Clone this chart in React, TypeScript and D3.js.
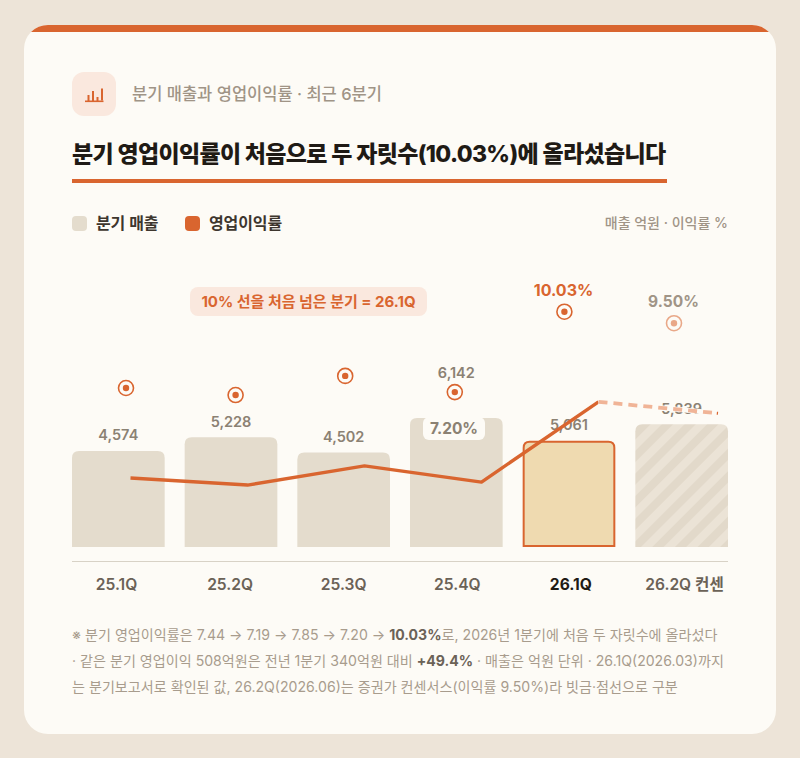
import React from "react";
import * as d3 from "d3";

const quarters = ["25.1Q", "25.2Q", "25.3Q", "25.4Q", "26.1Q", "26.2Q 컨센"];
const revenue = [4574, 5228, 4502, 6142, 5061, 5839];
const revenueLabels = ["4,574", "5,228", "4,502", "6,142", "5,061", "5,839"];
const marginPlot = [7.44, 7.2, 7.85, 7.3, 10.03, 9.64];

const ink = "#1f1a15";
const orange = "#d9652f";
const peach = "#f0b497";
const barFill = "#e4dccd";
const card = "#fdfbf6";
const sans = "Inter, 'Noto Sans CJK KR', sans-serif";

const x = d3.scaleBand<number>().domain(d3.range(6)).range([72, 728]).paddingInner(0.1775).paddingOuter(0);
const yBar = d3.scaleLinear().domain([0, 6142]).range([547, 418]);
const yMark = d3.scaleLinear().domain([7.44, 10.03]).range([388, 311.7]);
const yLine = d3.scaleLinear().domain([7.44, 10.03]).range([478, 401.8]);
const xMark = d3.scaleLinear().domain([0, 5]).range([126, 674]);
const xLine = d3.scaleLinear().domain([0, 4, 5]).range([130.5, 598.5, 718]);
const xLabel = d3.scaleLinear().domain([0, 5]).range([116.5, 684.5]);

const solidPath = d3.line<number>().x((_, i) => xLine(i)).y((d) => yLine(d))(marginPlot.slice(0, 5)) as string;
const dashPath = d3.line<number>().x((_, i) => xLine(i + 4)).y((d) => yLine(d))(marginPlot.slice(4)) as string;

const topRoundedBar = (x0: number, y0: number, w: number, y1: number, r: number) =>
  `M${x0},${y1}V${y0 + r}Q${x0},${y0} ${x0 + r},${y0}H${x0 + w - r}Q${x0 + w},${y0} ${x0 + w},${y0 + r}V${y1}Z`;

export default function App() {
  const bw = x.bandwidth();
  return (
    <svg width={800} height={758} viewBox="0 0 800 758" style={{ position: "fixed", left: 0, top: 0, fontFamily: sans }}>
      <defs>
        <pattern id="hatch" width="16" height="16" patternUnits="userSpaceOnUse" patternTransform="rotate(45)">
          <rect width="16" height="16" fill="#ebe3d6" />
          <rect width="8" height="16" fill="#e2d9ca" />
        </pattern>
        <clipPath id="card"><rect x="24" y="25" width="752" height="709" rx="24" /></clipPath>
      </defs>
      <rect width="800" height="758" fill="#ede4d8" />
      <rect x="24" y="25" width="752" height="709" rx="24" fill={card} />
      <rect x="24" y="25" width="752" height="7" fill={orange} clipPath="url(#card)" />

      <rect x="72" y="72" width="44" height="44" rx="12" fill="#fae8de" />
      <g fill={orange}>
        <rect x="85" y="100.5" width="18.5" height="1.6" />
        <rect x="87.5" y="95" width="2" height="6" />
        <rect x="92" y="91" width="2" height="10" />
        <rect x="96.5" y="97" width="2" height="4" />
        <rect x="101" y="88.5" width="2" height="12" />
      </g>
      <text x="132" y="99.5" fontSize="16.5" fontWeight={500} fill="#a09486">분기 매출과 영업이익률 · 최근 6분기</text>

      <text x="72" y="162" fontSize="23" fontWeight={800} fill={ink} letterSpacing="-0.65">분기 영업이익률이 처음으로 두 자릿수(10.03%)에 올라섰습니다</text>
      <rect x="72" y="179" width="595" height="4" fill={orange} />

      <rect x="72" y="216" width="15" height="15" rx="4" fill={barFill} />
      <text x="96" y="229" fontSize="16" fontWeight={600} fill="#3d362e" letterSpacing="-0.1">분기 매출</text>
      <rect x="185" y="216" width="15" height="15" rx="4" fill={orange} />
      <text x="209" y="229" fontSize="16" fontWeight={600} fill="#3d362e" letterSpacing="-0.1">영업이익률</text>
      <text x="728" y="228" fontSize="14" fontWeight={500} fill="#a09486" textAnchor="end">매출 억원 · 이익률 %</text>

      <rect x="190" y="287" width="237" height="29" rx="8" fill="#fae8de" />
      <text x="308.5" y="307" fontSize="15" fontWeight={700} fill={orange} textAnchor="middle">10% 선을 처음 넘은 분기 = 26.1Q</text>

      {revenue.map((v, i) => {
        const x0 = x(i) as number;
        const y0 = yBar(v);
        if (i === 4) {
          return <path key={i} d={topRoundedBar(x0 + 1, y0 + 1, bw - 2, 546, 6)} fill="#efdab0" stroke={orange} strokeWidth={2} />;
        }
        return <path key={i} d={topRoundedBar(x0, y0, bw, 547, 7)} fill={i === 5 ? "url(#hatch)" : barFill} />;
      })}
      <line x1="72" x2="728" y1="561.5" y2="561.5" stroke="#d8d2c6" strokeWidth={1} />

      {revenue.map((v, i) => (
        <text key={i} x={(x(i) as number) + bw / 2} y={i === 3 ? 378 : yBar(v) - 10.5} fontSize="14.5" fontWeight={600} fill="#8b8173" textAnchor="middle">{revenueLabels[i]}</text>
      ))}

      <path d={solidPath} fill="none" stroke={orange} strokeWidth={3.4} strokeLinejoin="round" />
      <path d={dashPath} fill="none" stroke={card} strokeWidth={5} />
      <path d={dashPath} fill="none" stroke={peach} strokeWidth={3.8} strokeDasharray="9 6" />
      <path d={dashPath} fill="none" stroke={orange} strokeWidth={3} pathLength={100} strokeDasharray="0 99 1" />

      {marginPlot.map((m, i) => (
        <g key={i} opacity={i === 5 ? 0.55 : 1}>
          <circle cx={xMark(i)} cy={yMark(m)} r={7.5} fill={card} stroke={orange} strokeWidth={1.6} />
          <circle cx={xMark(i)} cy={yMark(m)} r={3.2} fill={orange} />
        </g>
      ))}

      <rect x="423" y="417" width="62" height="23" rx="6" fill={card} />
      <text x="454" y="434" fontSize="15.5" fontWeight={700} fill="#8b8173" textAnchor="middle">7.20%</text>
      <text x="563.5" y="296" fontSize="16" fontWeight={700} fill={orange} textAnchor="middle">10.03%</text>
      <text x="673.5" y="307" fontSize="15.5" fontWeight={700} fill="#a09486" textAnchor="middle">9.50%</text>

      {quarters.map((q, i) => (
        <text key={q} x={xLabel(i)} y="590" fontSize="15.6" fontWeight={i === 4 ? 700 : 600} fill={i === 4 ? ink : "#6b6257"} textAnchor="middle">{q}</text>
      ))}

      <g fontSize="14.1" fill="#a89c8d">
        <text x="72" y="640">※ 분기 영업이익률은 7.44 → 7.19 → 7.85 → 7.20 → <tspan fontWeight={700} fill="#6b6257">10.03%</tspan>로, 2026년 1분기에 처음 두 자릿수에 올라섰다</text>
        <text x="72" y="666">· 같은 분기 영업이익 508억원은 전년 1분기 340억원 대비 <tspan fontWeight={700} fill="#6b6257">+49.4%</tspan> · 매출은 억원 단위 · 26.1Q(2026.03)까지</text>
        <text x="72" y="692">는 분기보고서로 확인된 값, 26.2Q(2026.06)는 증권가 컨센서스(이익률 9.50%)라 빗금·점선으로 구분</text>
      </g>
    </svg>
  );
}
